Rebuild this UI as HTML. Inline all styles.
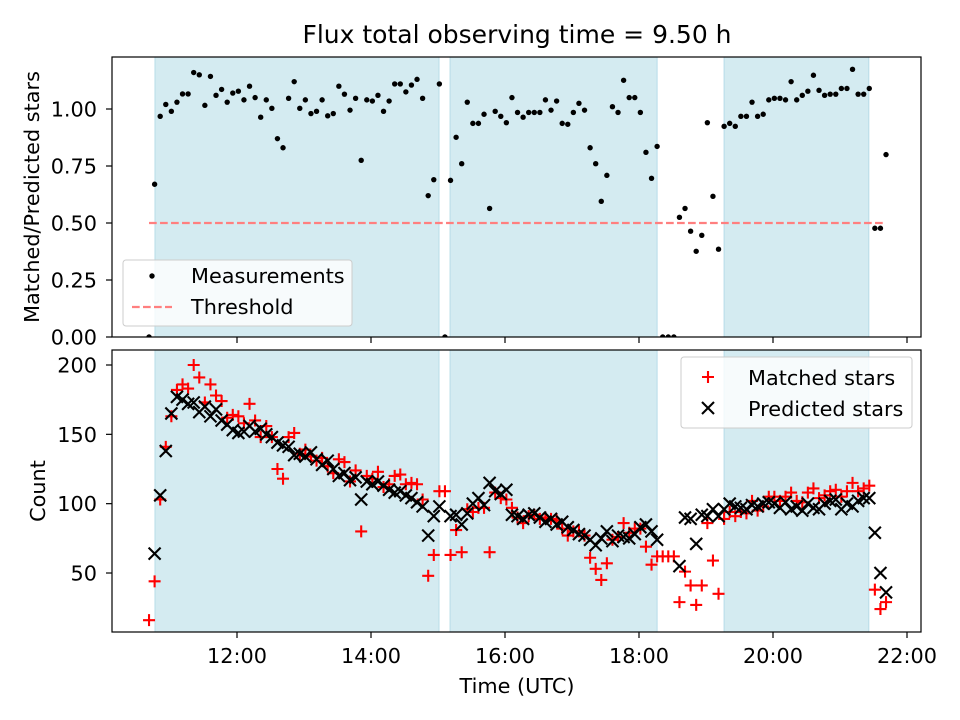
<!DOCTYPE html>
<html><head><meta charset="utf-8"><style>
html,body{margin:0;padding:0;background:#fff;}
svg{display:block;font-family:"DejaVu Sans","Liberation Sans",sans-serif;}
</style></head><body>
<svg id="chart" width="960" height="720" viewBox="0 0 960 720" xmlns="http://www.w3.org/2000/svg">
<rect width="960" height="720" fill="#fff"/>
<text x="517" y="43" font-size="25" text-anchor="middle">Flux total observing time = 9.50 h</text>
<g id="topPanel"></g><g id="botPanel"></g>
</svg>
<script>
const startHour = 10.687;
const stepHour = 1/12;
const spans = [[10.776,15.015],[15.18,18.27],[19.27,21.43]];
const threshold = 0.5;
const ratio = [0,0.67,0.968,1.02,0.99,1.03,1.066,1.066,1.16,1.15,
1.016,1.143,1.06,1.086,1.03,1.07,1.078,1.04,1.10,1.05,
0.964,1.04,1.003,0.87,0.83,1.047,1.12,1.003,1.04,0.98,
0.99,1.04,0.97,0.98,1.10,1.065,0.995,1.047,0.775,1.04,
1.035,1.06,0.99,1.035,1.11,1.11,1.075,1.105,1.13,1.047,
0.62,0.69,1.11,0,
0.687,0.876,0.76,1.03,0.937,0.937,0.977,0.564,0.99,0.968,
0.94,1.05,0.985,0.964,0.985,0.985,0.985,1.04,0.995,1.035,
0.937,0.933,0.985,1.025,0.995,0.83,0.76,0.595,0.709,1.01,
0.985,1.126,1.05,1.05,0.985,0.81,0.696,0.836,0,0,
0,0.525,0.564,0.464,0.376,0.446,0.94,0.617,0.385,0.924,
0.937,0.924,0.968,0.968,1.03,0.968,0.977,1.04,1.047,1.047,
1.04,1.12,1.04,1.06,1.078,1.148,1.082,1.06,1.065,1.065,
1.09,1.09,1.174,1.065,1.065,1.09,0.477,0.477,0.80];
const predicted = [null,64,106,138,165,177,175,172,173,166,
170,163,168,160,157,153,151,152,156,152,
154,150,148,144,142,141,135,136,134,137,
132,128,131,125,120,122,117,119,103,116,
114,116,113,110,108,109,106,104,101,98,
77,91,98,null,91,92,85,93,100,104,
99,115,109,107,110,92,91,89,92,93,
90,87,89,85,87,83,81,78,77,74,
70,75,80,73,77,76,75,78,83,85,
80,74,null,null,null,55,90,89,71,92,
91,96,91,96,100,98,97,96,99,98,
100,101,100,97,101,96,98,95,100,97,
96,100,102,103,96,100,98,102,104,104,
79,50,36];
const matched = [16,44,103,141,163,182,186,183,200,191,
173,186,178,174,162,164,163,158,172,160,
148,156,148,125,118,148,151,136,139,134,
131,133,127,122,132,130,116,124,80,120,
118,123,112,114,120,121,114,115,114,103,
48,63,109,109,63,81,65,96,94,97,
97,65,108,104,103,97,90,86,91,92,
89,90,89,88,82,77,80,80,77,61,
53,45,57,74,76,86,79,82,82,69,
56,62,62,62,62,29,51,41,27,41,
86,59,35,89,94,91,94,93,102,95,
98,105,105,102,105,108,102,101,108,111,
104,106,109,110,105,109,115,109,111,113,
38,24,29];
const xTickHours = [12,14,16,18,20,22];
const xTickLabels = ["12:00","14:00","16:00","18:00","20:00","22:00"];
const topTicks = [0,0.25,0.5,0.75,1.0];
const topTickLabels = ["0.00","0.25","0.50","0.75","1.00"];
const botTicks = [50,100,150,200];
const botTickLabels = ["50","100","150","200"];

const NS="http://www.w3.org/2000/svg";
const FS=20.8;
const L=112,R=921;
const T1=57,B1=337,T2=350,B2=632;
const X=h=>237+(h-12)*67;
const YT=r=>337-r*228;
const YB=c=>365+(200-c)*1.3867;
const hourAt=i=>startHour+i*stepHour;
function mk(tag,attrs,parent){const e=document.createElementNS(NS,tag);for(const k in attrs)e.setAttribute(k,attrs[k]);parent.appendChild(e);return e;}
const topG=document.getElementById('topPanel'), botG=document.getElementById('botPanel');
const defs=mk('defs',{},document.getElementById('chart'));
const c1=mk('clipPath',{id:'c1'},defs);mk('rect',{x:L,y:T1,width:R-L,height:B1-T1},c1);
const c2=mk('clipPath',{id:'c2'},defs);mk('rect',{x:L,y:T2,width:R-L,height:B2-T2},c2);

function panel(g,T,B,clip,ticks,labels,Y,ylabel,ylx,showX){
  const sg=mk('g',{'clip-path':'url(#'+clip+')'},g);
  spans.forEach(s=>{
    const r=mk('rect',{x:X(s[0]),y:T,width:X(s[1])-X(s[0]),height:B-T,fill:'#d4ebf1',stroke:'#b7dce8','stroke-width':1},sg);
    
    
  });
  ticks.forEach((t,i)=>{
    const y=Y(t);
    mk('line',{x1:L-6,x2:L,y1:y,y2:y,stroke:'#000','stroke-width':1.2},g);
    const tx=mk('text',{x:L-15,y:y+7.5,'font-size':FS,'text-anchor':'end'},g);
    tx.textContent=labels[i];
    
    
  });
  xTickHours.forEach((h,i)=>{
    mk('line',{x1:X(h),x2:X(h),y1:B,y2:B+6,stroke:'#000','stroke-width':1.2},g);
    if(showX){
      const tx=mk('text',{x:X(h),y:B+31,'font-size':FS,'text-anchor':'middle'},g);
      tx.textContent=xTickLabels[i];
      
      
    }
  });
  const yl=mk('text',{x:0,y:0,'font-size':FS,'text-anchor':'middle',transform:`translate(${ylx},${(T+B)/2}) rotate(-90)`},g);
  yl.textContent=ylabel;
  
  
  return sg;
}
const sgT=panel(topG,T1,B1,'c1',topTicks,topTickLabels,YT,'Matched/Predicted stars',39,false);
const sgB=panel(botG,T2,B2,'c2',botTicks,botTickLabels,YB,'Count',45,true);

const th=mk('line',{x1:X(startHour),x2:X(hourAt(ratio.length-1)),y1:YT(threshold),y2:YT(threshold),stroke:'#ff7f7f','stroke-width':2.2,'stroke-dasharray':'7.7,3.3'},sgT);


ratio.forEach((r,i)=>{
  const c=mk('circle',{cx:X(hourAt(i)),cy:YT(r),r:2.7,fill:'#000'},sgT);
  
  
});
matched.forEach((m,i)=>{
  if(m==null)return;
  const x=X(hourAt(i)),y=YB(m),s=6;
  const p=mk('path',{d:`M${x-s} ${y}H${x+s}M${x} ${y-s}V${y+s}`,stroke:'#ff0000','stroke-width':2.1},sgB);
  
  
});
predicted.forEach((m,i)=>{
  if(m==null)return;
  const x=X(hourAt(i)),y=YB(m),s=6;
  const p=mk('path',{d:`M${x-s} ${y-s}L${x+s} ${y+s}M${x-s} ${y+s}L${x+s} ${y-s}`,stroke:'#000','stroke-width':2.1},sgB);
  
  
});
[[T1,B1,topG],[T2,B2,botG]].forEach(a=>{
  const f=mk('rect',{x:L,y:a[0],width:R-L,height:a[1]-a[0],fill:'none',stroke:'#000','stroke-width':1.2},a[2]);
  
  
});
const xt=mk('text',{x:517,y:693,'font-size':FS,'text-anchor':'middle'},botG);
xt.textContent='Time (UTC)';



const lg1=mk('g',{},topG);


mk('rect',{x:123,y:260,width:229,height:66,rx:3,fill:'#fff','fill-opacity':0.8,stroke:'#ccc'},lg1);
mk('circle',{cx:152,cy:276,r:2.7,fill:'#000'},lg1);
let t=mk('text',{x:191,y:283,'font-size':FS},lg1);t.textContent='Measurements';
mk('line',{x1:132,x2:172,y1:307,y2:307,stroke:'#ff7f7f','stroke-width':2.2,'stroke-dasharray':'7.7,3.3'},lg1);
t=mk('text',{x:191,y:314,'font-size':FS},lg1);t.textContent='Threshold';
const lg2=mk('g',{},botG);


mk('rect',{x:681,y:357,width:231,height:71,rx:3,fill:'#fff','fill-opacity':0.8,stroke:'#ccc'},lg2);
mk('path',{d:'M702 377H714M708 371V383',stroke:'#ff0000','stroke-width':2.1},lg2);
t=mk('text',{x:748,y:385,'font-size':FS},lg2);t.textContent='Matched stars';
mk('path',{d:'M702 402L714 414M702 414L714 402',stroke:'#000','stroke-width':2.1},lg2);
t=mk('text',{x:748,y:416,'font-size':FS},lg2);t.textContent='Predicted stars';
</script>
</body></html>
